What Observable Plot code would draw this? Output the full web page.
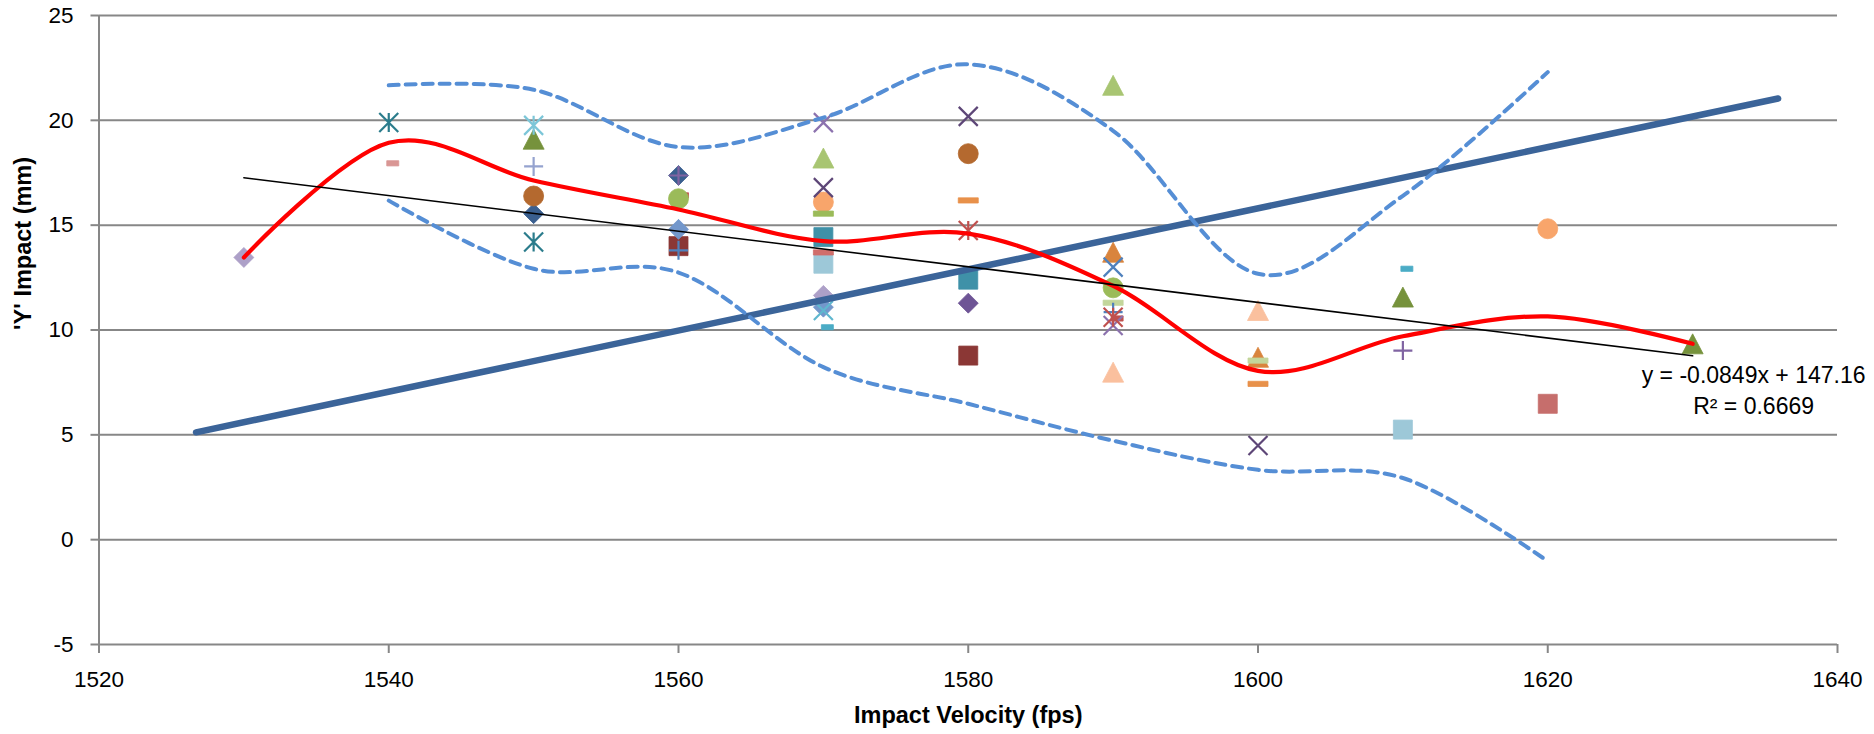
<!DOCTYPE html>
<html>
<head>
<meta charset="utf-8">
<script src="https://cdn.jsdelivr.net/npm/d3@7"></script>
<script src="https://cdn.jsdelivr.net/npm/@observablehq/plot@0.6"></script>
<style>
  html, body { margin: 0; padding: 0; background: #ffffff; }
  #chart svg { display: block; }
</style>
</head>
<body>
<div id="chart"></div>
<script>
// ---------- DATA ----------
// Series: marker shape and colour of each Excel-style series
const seriesNames   = ["A","B","C","D","E","F","G","H","I","J","K","L","M","N","O","P","Q","R","S","T","U","V","W","X","Y","Z","AA","AB","AC","AD","AE","AF"];
const seriesMarkers = ["diamond","star","shortDash","star","triangle","plus","circle","diamond","plus","shortDash","circle","diamond","square","plus","times","triangle","times","circle","dash","square","dash","square","times","shortDash","dash","star","diamond","triangle","times","dash","triangle","square"];
const seriesColors  = ["#ADA0C8","#2B7C8C","#D99694","#7CC6D8","#76923C","#95A3CF","#B4692F","#3A5F8F","#8064A2","#C0504D","#9BBB59","#7397CB","#8B3735","#4F81BD","#8C72AE","#A8C572","#5D4677","#F8A56B","#9BBB59","#3F91A8","#D06E6B","#9DC8D8","#5FB7CF","#4BACC6","#E8914A","#C0504D","#6E5495","#D9843D","#4F81BD","#C3D69B","#FAC09E","#C66E6C"];

// Individual shots
const pointSeries = ["A","A","B","B","C","D","E","E","E","F","G","G","H","H","I","I","J","J","K","K","L","L","M","M","N","N","O","O","P","P","Q","Q","Q","R","R","S","T","T","U","V","V","W","X","X","Y","Y","Z","Z","AA","AB","AB","AC","AD","AD","AE","AE","AF"];
const velocity    = [1530,1570,1540,1550,1540,1550,1550,1610,1630,1550,1550,1580,1550,1560,1560,1610,1560,1590,1560,1590,1560,1570,1560,1580,1560,1590,1570,1590,1570,1590,1570,1580,1600,1570,1620,1570,1570,1580,1570,1570,1610,1570,1570,1610,1580,1600,1580,1590,1580,1590,1600,1590,1590,1600,1590,1600,1620];
const impactY     = [13.46,11.65,19.9,14.2,17.95,19.76,19.1,11.57,9.34,17.8,16.39,18.41,15.55,17.37,17.37,9.02,16.42,10.55,16.26,12.01,14.8,11.09,14.0,8.78,13.8,10.85,19.89,10.21,18.2,21.67,16.79,20.19,4.49,16.1,14.83,15.55,14.43,12.4,13.7,13.16,5.25,10.93,10.13,12.92,16.18,7.43,14.75,10.61,11.28,13.71,8.7,13.0,11.3,8.54,7.99,10.93,6.48];

// Smoothed mean line (red)
const meanX = [1530,1540,1550,1560,1570,1580,1590,1600,1610,1620,1630];
const meanY = [13.46,18.93,17.13,15.75,14.24,14.6,12.1,8.05,9.7,10.65,9.34];

// Upper / lower dashed band
const bandX  = [1540,1550,1560,1570,1580,1590,1600,1610,1620];
const upperY = [21.67,21.46,18.73,20.13,22.67,19.5,12.68,16.4,22.3];
const lowerY = [16.17,12.92,12.74,8.23,6.48,4.72,3.33,2.94,-1.03];

// Thick blue straight line
const blueX = [1526.7,1635.9];
const blueY = [5.12,21.04];

// Linear trendline (black)
const trendX = [1530,1630];
const trendY = [17.26,8.77];
const trendLabel = "y = -0.0849x + 147.16\nR² = 0.6669";

// Axis ticks
const xTicks = [1520,1540,1560,1580,1600,1620,1640];
const yTicks = [-5,0,5,10,15,20,25];

// ---------- BUILD ----------
const styleOf = new Map(seriesNames.map((s, i) => [s, {marker: seriesMarkers[i], color: seriesColors[i]}]));
const points = velocity.map((v, i) => ({
  v, y: impactY[i],
  marker: styleOf.get(pointSeries[i]).marker,
  color: styleOf.get(pointSeries[i]).color
}));

const S = size => Math.sqrt(size / Math.PI);
const symbols = {
  circle:   {draw(c, size) { const s = S(size); c.moveTo(s, 0); c.arc(0, 0, s, 0, 2 * Math.PI); c.closePath(); }},
  diamond:  {draw(c, size) { const s = S(size); c.moveTo(0, -s); c.lineTo(s, 0); c.lineTo(0, s); c.lineTo(-s, 0); c.closePath(); }},
  square:   {draw(c, size) { const s = S(size) * 0.95; c.rect(-s, -s, 2 * s, 2 * s); }},
  triangle: {draw(c, size) { const s = S(size); c.moveTo(0, -s); c.lineTo(1.05 * s, s); c.lineTo(-1.05 * s, s); c.closePath(); }},
  dash:     {draw(c, size) { const s = S(size); c.rect(-s, -0.26 * s, 2 * s, 0.52 * s); }},
  shortDash:{draw(c, size) { const s = S(size); c.rect(-0.2 * s, -0.26 * s, 1.2 * s, 0.52 * s); }},
  times:    {draw(c, size) { const s = S(size) * 0.95; c.moveTo(-s, -s); c.lineTo(s, s); c.moveTo(s, -s); c.lineTo(-s, s); }},
  plus:     {draw(c, size) { const s = S(size) * 0.95; c.moveTo(-s, 0); c.lineTo(s, 0); c.moveTo(0, -s); c.lineTo(0, s); }},
  star:     {draw(c, size) { const s = S(size) * 0.95; c.moveTo(-s, -s); c.lineTo(s, s); c.moveTo(s, -s); c.lineTo(-s, s); c.moveTo(0, -s); c.lineTo(0, s); }}
};
const filledOrder = ["square","diamond","triangle","shortDash","circle","dash"];
const strokedOrder = ["times","plus","star"];

const markMarks = [
  ...filledOrder.map(m => Plot.dot(points.filter(d => d.marker === m), {
    x: "v", y: "y", r: 10, symbol: symbols[m], fill: "color", stroke: "color", strokeWidth: 0.8
  })),
  ...strokedOrder.map(m => Plot.dot(points.filter(d => d.marker === m), {
    x: "v", y: "y", r: 10, symbol: symbols[m], fill: "none", stroke: "color", strokeWidth: 2.2
  }))
];

const meanData  = meanX.map((x, i) => ({x, y: meanY[i]}));
const upperData = bandX.map((x, i) => ({x, y: upperY[i]}));
const lowerData = bandX.map((x, i) => ({x, y: lowerY[i]}));
const blueData  = blueX.map((x, i) => ({x, y: blueY[i]}));
const trendData = trendX.map((x, i) => ({x, y: trendY[i]}));

const gray = "#878787";
const plain = d => String(d);

const chart = Plot.plot({
  width: 1874,
  height: 734,
  marginLeft: 98.5,
  marginRight: 37,
  marginTop: 15,
  marginBottom: 90,
  style: {fontFamily: "'Liberation Sans', Arial, sans-serif", fontSize: "22.5px", color: "#000", background: "#fff"},
  x: {domain: [1520, 1640]},
  y: {domain: [-5, 25]},
  color: {type: "identity"},
  marks: [
    Plot.gridY(yTicks, {stroke: gray, strokeOpacity: 1, strokeWidth: 2}),
    Plot.ruleX([1520], {stroke: gray, strokeWidth: 2}),
    Plot.axisY(yTicks, {tickSize: 8, tickPadding: 17.5, tickFormat: plain, stroke: gray, strokeWidth: 2, fill: "#000", label: null, fontSize: 22.5}),
    Plot.axisX(xTicks, {tickSize: 9, tickPadding: 17.5, tickFormat: plain, stroke: gray, strokeWidth: 2, fill: "#000", label: null, fontSize: 22.5}),
    ...markMarks,
    Plot.line(blueData, {x: "x", y: "y", stroke: "#3B6499", strokeWidth: 6.5}),
    Plot.line(upperData, {x: "x", y: "y", curve: "cardinal", stroke: "#558ED5", strokeWidth: 4, strokeDasharray: "10,7", strokeLinecap: "round"}),
    Plot.line(lowerData, {x: "x", y: "y", curve: "cardinal", stroke: "#558ED5", strokeWidth: 4, strokeDasharray: "10,7", strokeLinecap: "round"}),
    Plot.line(meanData, {x: "x", y: "y", curve: "cardinal", stroke: "#FF0000", strokeWidth: 4.2}),
    Plot.line(trendData, {x: "x", y: "y", stroke: "#000", strokeWidth: 1.6}),
    Plot.text([trendData[1]], {x: "x", y: "y", text: () => trendLabel, textAnchor: "middle", lineAnchor: "middle", lineHeight: 1.35, dx: 61, dy: 33, fontSize: 23, fill: "#000"}),
    Plot.text(["Impact Velocity (fps)"], {frameAnchor: "bottom", dy: 78, fontSize: 23.5, fontWeight: "bold", fill: "#000"}),
    Plot.text(["'Y' Impact (mm)"], {frameAnchor: "left", dx: -76, rotate: -90, fontSize: 23.5, fontWeight: "bold", fill: "#000"})
  ]
});
document.getElementById("chart").appendChild(chart);
</script>
</body>
</html>
